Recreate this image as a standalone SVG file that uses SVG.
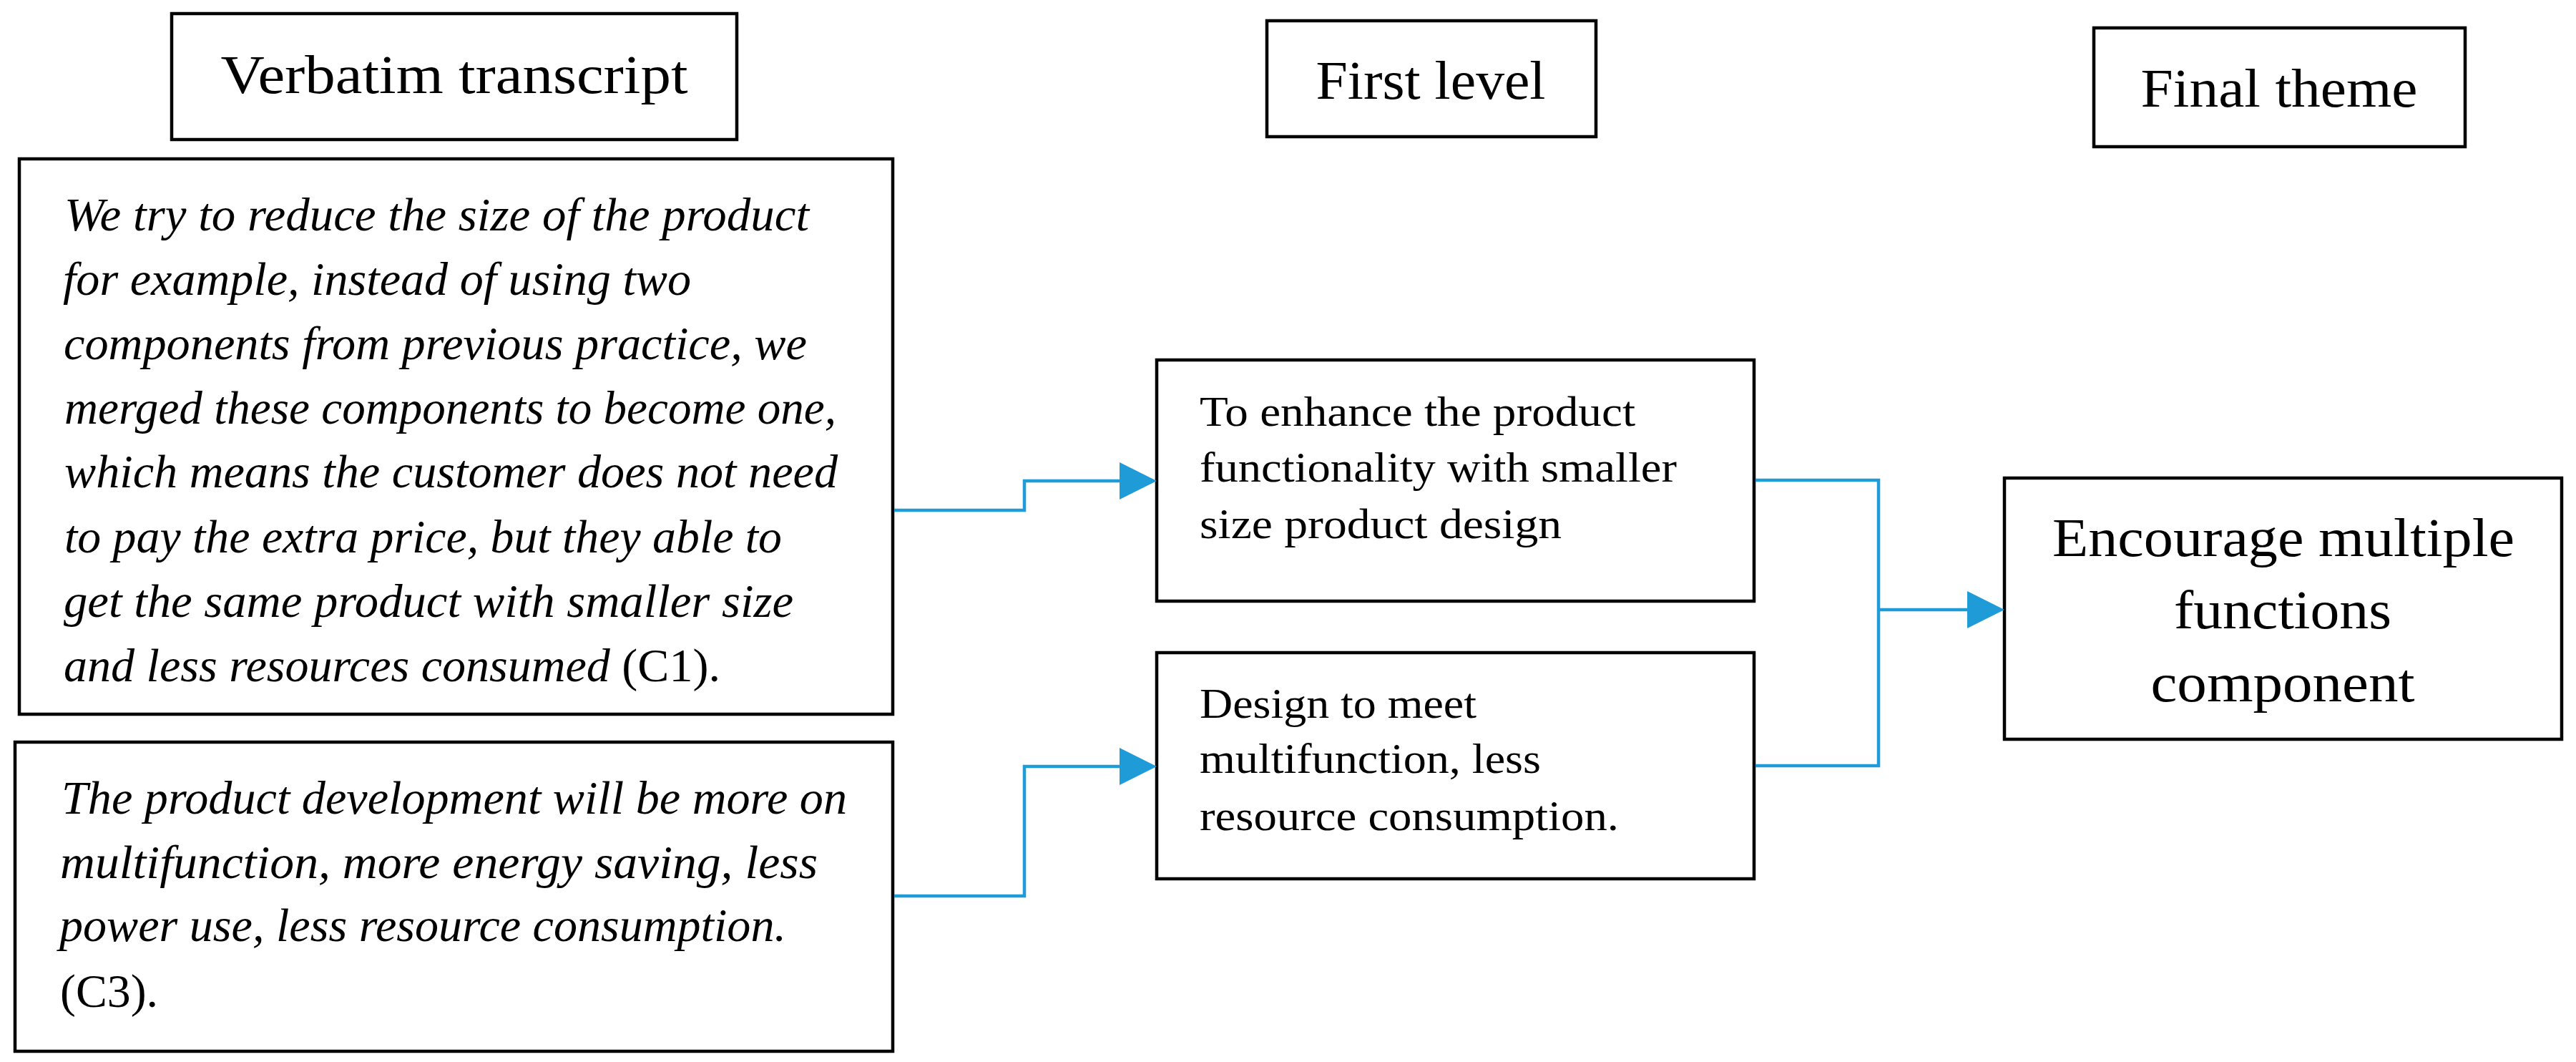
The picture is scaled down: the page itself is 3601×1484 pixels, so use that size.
<svg xmlns="http://www.w3.org/2000/svg" width="3601" height="1484" viewBox="0 0 3601 1484">
<style>
  .box { fill: #ffffff; stroke: #000000; stroke-width: 4.5; }
  .hdr { font-family: "Liberation Serif", "Times New Roman", serif; font-size: 76px; fill: #000; text-anchor: middle; }
  .quote { font-family: "Liberation Serif", "Times New Roman", serif; font-size: 66px; font-style: italic; fill: #000; }
  .up { font-style: normal; }
  .lvl { font-family: "Liberation Serif", "Times New Roman", serif; font-size: 60px; fill: #000; }
  .fin { font-family: "Liberation Serif", "Times New Roman", serif; font-size: 76px; fill: #000; text-anchor: middle; }
  .conn { fill: none; stroke: #1f9bd7; stroke-width: 4.5; }
</style>
<defs>
  <marker id="arrow" markerUnits="userSpaceOnUse" markerWidth="52" markerHeight="52" viewBox="0 0 52 52" refX="0" refY="26" orient="auto">
    <path d="M0,0 L52,26 L0,52 Z" fill="#1f9bd7"/>
  </marker>
</defs>
<rect width="3601" height="1484" fill="#ffffff"/>

<g id="hdr-verbatim">
  <rect class="box" x="240" y="19" width="790" height="176"/>
  <text class="hdr" x="635" y="130" textLength="653" lengthAdjust="spacingAndGlyphs">Verbatim transcript</text>
</g>
<g id="hdr-first">
  <rect class="box" x="1771" y="29" width="460" height="162"/>
  <text class="hdr" x="2000" y="138" textLength="321" lengthAdjust="spacingAndGlyphs">First level</text>
</g>
<g id="hdr-final">
  <rect class="box" x="2927" y="39" width="519" height="166"/>
  <text class="hdr" x="3186" y="149" textLength="387" lengthAdjust="spacingAndGlyphs">Final theme</text>
</g>

<g id="quote-c1">
  <rect class="box" x="27" y="222" width="1221" height="776"/>
  <text class="quote" x="90" y="322" textLength="1041" lengthAdjust="spacingAndGlyphs">We try to reduce the size of the product</text>
  <text class="quote" x="88" y="412" textLength="878" lengthAdjust="spacingAndGlyphs">for example, instead of using two</text>
  <text class="quote" x="89" y="502" textLength="1039" lengthAdjust="spacingAndGlyphs">components from previous practice, we</text>
  <text class="quote" x="90" y="592" textLength="1079" lengthAdjust="spacingAndGlyphs">merged these components to become one,</text>
  <text class="quote" x="90" y="681" textLength="1081" lengthAdjust="spacingAndGlyphs">which means the customer does not need</text>
  <text class="quote" x="90" y="772" textLength="1003" lengthAdjust="spacingAndGlyphs">to pay the extra price, but they able to</text>
  <text class="quote" x="89" y="862" textLength="1020" lengthAdjust="spacingAndGlyphs">get the same product with smaller size</text>
  <text class="quote" x="89" y="952" textLength="918" lengthAdjust="spacingAndGlyphs">and less resources consumed <tspan class="up">(C1).</tspan></text>
</g>

<g id="quote-c3">
  <rect class="box" x="21" y="1037" width="1227" height="432"/>
  <text class="quote" x="86" y="1137" textLength="1098" lengthAdjust="spacingAndGlyphs">The product development will be more on</text>
  <text class="quote" x="84" y="1227" textLength="1059" lengthAdjust="spacingAndGlyphs">multifunction, more energy saving, less</text>
  <text class="quote" x="83" y="1315" textLength="1016" lengthAdjust="spacingAndGlyphs">power use, less resource consumption.</text>
  <text class="quote up" x="84" y="1407" textLength="137" lengthAdjust="spacingAndGlyphs">(C3).</text>
</g>

<g id="level-1">
  <rect class="box" x="1617" y="503" width="835" height="337"/>
  <text class="lvl" x="1677" y="595" textLength="609" lengthAdjust="spacingAndGlyphs">To enhance the product</text>
  <text class="lvl" x="1677" y="673" textLength="667" lengthAdjust="spacingAndGlyphs">functionality with smaller</text>
  <text class="lvl" x="1677" y="752" textLength="506" lengthAdjust="spacingAndGlyphs">size product design</text>
</g>

<g id="level-2">
  <rect class="box" x="1617" y="912" width="835" height="316"/>
  <text class="lvl" x="1677" y="1003" textLength="387" lengthAdjust="spacingAndGlyphs">Design to meet</text>
  <text class="lvl" x="1677" y="1080" textLength="477" lengthAdjust="spacingAndGlyphs">multifunction, less</text>
  <text class="lvl" x="1677" y="1160" textLength="586" lengthAdjust="spacingAndGlyphs">resource consumption.</text>
</g>

<g id="final-theme">
  <rect class="box" x="2802" y="668" width="779" height="365"/>
  <text class="fin" x="3192" y="777" textLength="646" lengthAdjust="spacingAndGlyphs">Encourage multiple</text>
  <text class="fin" x="3191" y="878" textLength="304" lengthAdjust="spacingAndGlyphs">functions</text>
  <text class="fin" x="3191" y="980" textLength="369" lengthAdjust="spacingAndGlyphs">component</text>
</g>

<g id="connectors">
  <path class="conn" d="M1250,713 H1432 V672 H1565" marker-end="url(#arrow)"/>
  <path class="conn" d="M1250,1252 H1432 V1071 H1565" marker-end="url(#arrow)"/>
  <path class="conn" d="M2454,671 H2626 V1070 H2454"/>
  <path class="conn" d="M2626,852 H2750" marker-end="url(#arrow)"/>
</g>
</svg>
